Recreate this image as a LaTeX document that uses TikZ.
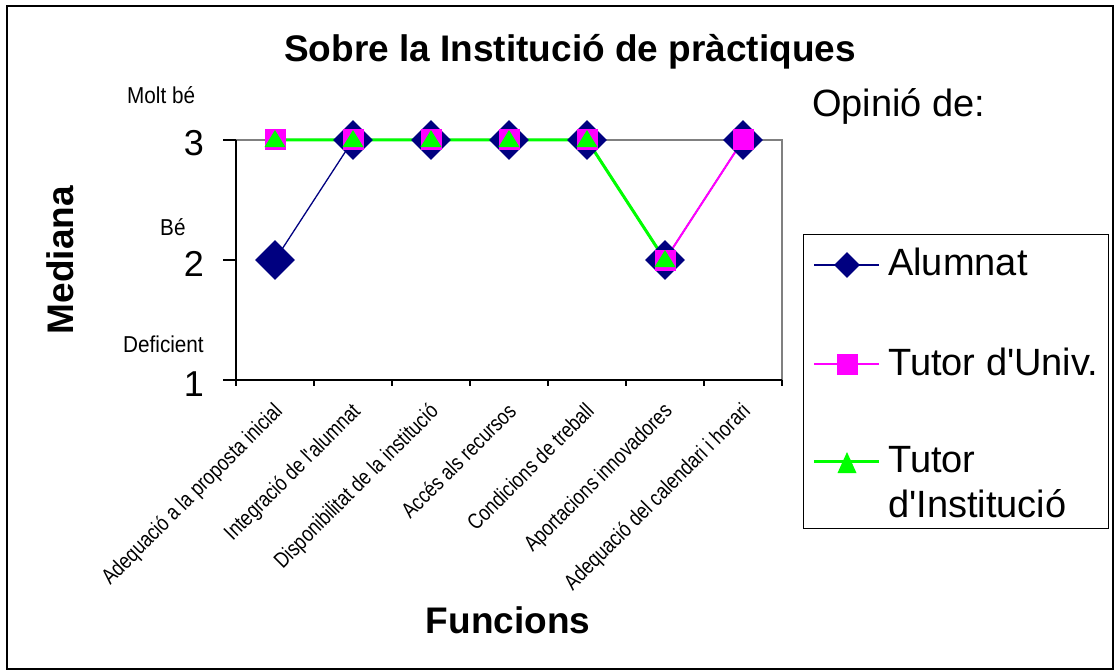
\documentclass[tikz,border=0pt]{standalone}
\usepackage{fontspec}
\setmainfont{Liberation Sans}
\newfontfamily\qualfont{Liberation Sans}[FakeStretch=0.9]
\newfontfamily\catfont{Liberation Sans}[FakeStretch=0.82]
\usetikzlibrary{shapes.geometric}
\definecolor{aluNavy}{RGB}{0,0,128}
\definecolor{univPink}{RGB}{255,0,255}
\definecolor{instGreen}{RGB}{0,255,0}

\begin{document}
\begin{tikzpicture}[x=1pt, y=-1pt,
  alu/.style = {diamond, fill=aluNavy, inner sep=0, minimum width=40, minimum height=40},
  univ/.style = {rectangle, fill=univPink, inner sep=0, minimum size=21},
  inst/.style = {isosceles triangle, isosceles triangle stretches, shape border rotate=90, fill=instGreen, inner sep=0, minimum width=21, minimum height=17, anchor=apex, yshift=10.5pt},
  aluline/.style = {draw=aluNavy, line width=1.3},
  univline/.style = {draw=univPink, line width=2},
  instline/.style = {draw=instGreen, line width=3},
  cat/.style = {font=\catfont\fontsize{22}{22}\selectfont, inner sep=0, rotate=45, anchor=north east},
  qual/.style = {font=\qualfont\fontsize{23}{23}\selectfont, inner sep=0, anchor=base west},
  big/.style = {font=\fontsize{38}{38}\selectfont, inner sep=0, anchor=base west},
  bold/.style = {font=\fontsize{37}{37}\selectfont\bfseries, inner sep=0, anchor=base}]
\useasboundingbox (0,0) rectangle (1116,671);
\draw[line width=1.6] (7,6) rectangle (1113,669);

\node[bold] (title) at (570,62) {Sobre la Institució de pràctiques};
\node[bold, rotate=90] (ylab) at (73,260) {Mediana};
\node[bold] (xlab) at (508,633) {Funcions};
\node[big] (op) at (812,117) {Opinió de:};

\draw[gray, line width=1.2] (236,140) -- (782,140) -- (782,380);
\draw[line width=1.2] (236,140) -- (236,380) -- (782,380);
\foreach \y in {140,260,380}
  \draw[line width=1.2] (223,\y) -- (236,\y);
\foreach \i in {0,...,7}
  \draw[line width=1.2] ({236+78*\i},380) -- ({236+78*\i},386);

\foreach \v/\y in {3/156,2/276,1/396}
  \node[font=\fontsize{36}{36}\selectfont, inner sep=0, anchor=base east] (y\v) at (204,\y) {\v};
\node[qual] (q3) at (127,104) {Molt bé};
\node[qual] (q2) at (160,236) {Bé};
\node[qual] (q1) at (123,352) {Deficient};

\foreach \i/\t in {1/Adequació a la proposta inicial, 2/Integració de l\textquotesingle alumnat,
  3/Disponibilitat de la institució, 4/Accés als recursos, 5/Condicions de treball,
  6/Aportacions innovadores, 7/Adequació del calendari i horari}
  \node[cat] (c\i) at ({272+78*(\i-1)},401) {\t};

\foreach \i/\y in {1/260,2/140,3/140,4/140,5/140,6/260,7/140}
  \coordinate (a\i) at ({275+78*(\i-1)},\y);
\foreach \i/\y in {1/140,2/140,3/140,4/140,5/140,6/260,7/140}
  \coordinate (u\i) at ({275+78*(\i-1)},\y);
\foreach \i/\y in {1/140,2/140,3/140,4/140,5/140,6/260}
  \coordinate (t\i) at ({275+78*(\i-1)},\y);

\draw[aluline] (a1) -- (a2) -- (a3) -- (a4) -- (a5) -- (a6) -- (a7);
\draw[univline] (u1) -- (u2) -- (u3) -- (u4) -- (u5) -- (u6) -- (u7);
\draw[instline] (t1) -- (t2) -- (t3) -- (t4) -- (t5) -- (t6);
\foreach \i in {1,...,7}
  \node[alu] (am\i) at (a\i) {};
\foreach \i in {1,...,7}
  \node[univ] (um\i) at (u\i) {};
\foreach \i in {1,...,6}
  \node[inst] (tm\i) at (t\i) {};

\node[draw, line width=1, inner sep=0, minimum width=305, minimum height=294] (leg) at (955.5,381) {};
\coordinate (l1a) at (814,265); \coordinate (l1b) at (879,265);
\coordinate (l2a) at (814,364); \coordinate (l2b) at (879,364);
\coordinate (l3a) at (814,461); \coordinate (l3b) at (879,461);
\draw[aluline] (l1a) -- (l1b);
\draw[univline] (l2a) -- (l2b);
\draw[instline] (l3a) -- (l3b);
\node[alu, minimum width=26, minimum height=26] (lm1) at (847,265) {};
\node[univ] (lm2) at (847,364) {};
\node[inst, minimum width=19, minimum height=21, yshift=-1pt] (lm3) at (847,461) {};
\node[big] (lt1) at (888,275) {Alumnat};
\node[big] (lt2) at (888,375) {Tutor d\textquotesingle Univ.};
\node[big] (lt3) at (888,472) {Tutor};
\node[big] (lt4) at (888,517) {d\textquotesingle Institució};
\end{tikzpicture}
\end{document}
